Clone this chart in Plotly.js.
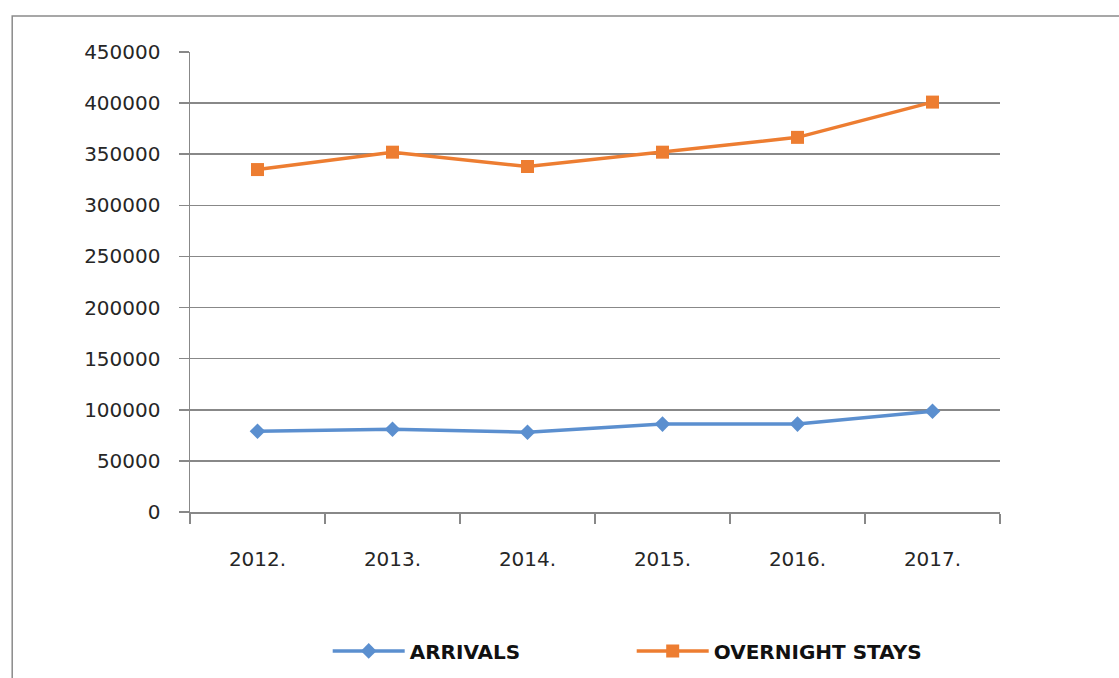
<!DOCTYPE html>
<html>
<head>
<meta charset="utf-8">
<script src="https://cdn.plot.ly/plotly-3.0.1.min.js"></script>
<style>
  html, body { margin: 0; padding: 0; background: #ffffff; }
  #chart { width: 1119px; height: 678px; }
</style>
</head>
<body>
<div id="chart"></div>
<script>
// Tourist arrivals and overnight stays by year
const years = ['2012.', '2013.', '2014.', '2015.', '2016.', '2017.'];
const arrivals = [79000, 81000, 78000, 86000, 86000, 98500];
const overnightStays = [335000, 352000, 338000, 352000, 366500, 401000];
const yTicks = [0, 50000, 100000, 150000, 200000, 250000, 300000, 350000, 400000, 450000];

const traces = [
  {
    x: years, y: arrivals, name: 'ARRIVALS', type: 'scatter', mode: 'lines+markers',
    line: { color: '#5B8FCF', width: 3.5 },
    marker: { symbol: 'diamond', size: 12, color: '#5B8FCF' }
  },
  {
    x: years, y: overnightStays, name: 'OVERNIGHT STAYS', type: 'scatter', mode: 'lines+markers',
    line: { color: '#ED7D31', width: 3.5 },
    marker: { symbol: 'square', size: 13, color: '#ED7D31' }
  }
];

const layout = {
  width: 1119, height: 678,
  margin: { l: 190, r: 119, t: 52, b: 166, autoexpand: false },
  paper_bgcolor: '#ffffff', plot_bgcolor: '#ffffff',
  font: { family: 'DejaVu Sans, sans-serif', size: 20, color: '#262626' },
  showlegend: true,
  legend: {
    orientation: 'h', x: 0.17, xanchor: 'left',
    yref: 'container', y: 0.04, yanchor: 'middle',
    font: { family: 'DejaVu Sans, sans-serif', size: 20, color: '#111111', weight: 'bold' },
    itemwidth: 72, entrywidth: 217
  },
  xaxis: {
    type: 'category', range: [-0.5, 5.5],
    showgrid: false, zeroline: false,
    showline: true, linecolor: '#888888', linewidth: 1.5,
    ticks: 'outside', tickson: 'boundaries', ticklen: 10, tickcolor: '#888888', tickwidth: 1.5,
    ticklabelstandoff: 28,
    tickfont: { size: 20, color: '#262626' }
  },
  yaxis: {
    range: [0, 450000], tickvals: yTicks, ticktext: yTicks.map(String),
    showgrid: true, gridcolor: '#888888', gridwidth: 1.5,
    zeroline: false,
    showline: true, linecolor: '#888888', linewidth: 1.5,
    ticks: 'outside', ticklen: 10, tickcolor: '#888888', tickwidth: 1.5,
    ticklabelstandoff: 14,
    tickfont: { size: 20, color: '#262626' }
  },
  shapes: [
    {
      type: 'rect', xref: 'paper', yref: 'paper',
      x0: -0.2195, x1: 1.2, y0: -0.5, y1: 1.0783,
      line: { color: '#8a8a8a', width: 1.5 }, fillcolor: 'rgba(0,0,0,0)', layer: 'below'
    }
  ]
};

Plotly.newPlot('chart', traces, layout, { displayModeBar: false, staticPlot: true });
</script>
</body>
</html>
